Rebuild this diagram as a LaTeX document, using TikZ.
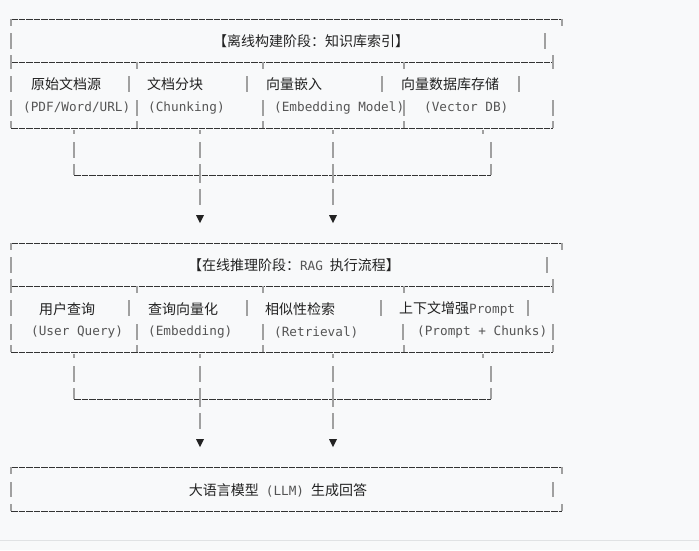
\documentclass[tikz,border=0pt]{standalone}
\usepackage{fontspec}
\newfontfamily\cjk{Noto Sans CJK SC}
\newfontfamily\mono{DejaVu Sans Mono}
\definecolor{bg}{HTML}{F8F9FA}
\definecolor{ln}{HTML}{333333}
\definecolor{vbc}{HTML}{A0A0A0}
\definecolor{tx}{HTML}{222222}
\definecolor{mt}{HTML}{555555}
\definecolor{sep}{HTML}{E0E2E4}
\newcommand\monofont{\mono\fontsize{12.7}{14}\selectfont}
\tikzset{
  hl/.style={draw=ln, line width=0.9pt, dash pattern=on 6.6pt off 0.9pt},
  vb/.style={draw=vbc, line width=1.3pt},
  cj/.style={font=\cjk\fontsize{14}{16}\selectfont, text=tx, inner sep=0pt},
  cjw/.style={cj, anchor=west},
  mo/.style={font=\monofont, text=mt, anchor=west, inner sep=0pt},
  tri/.style={fill=tx},
}
\newcommand\vseg[3]{\draw[vb] (#1,#2) -- (#1,#3);}
\newcommand\rowbars[2]{\foreach \xx in {#2} {\draw[vb] (\xx,#1-8) -- (\xx,#1+8);}}
% frame of a stage box (relative coordinates, top at 19)
\newcommand\stageframe[3]{%
  \draw[hl] (11,19) -- (562,19);
  \vseg{11}{19}{26}\vseg{562}{19}{26}
  \vseg{11}{33}{49}\vseg{#1}{33}{49}
  \draw[hl] (11,62) -- (553,62);
  \vseg{11}{55}{69}\vseg{553}{55}{69}
  \foreach \xx in {137,263,404} {\vseg{\xx}{62}{69}}
  \rowbars{84}{#2}
  \rowbars{108}{#3}
  \draw[hl] (11,128) -- (553,128);
  \vseg{11}{121}{128}\vseg{553}{121}{128}
  \foreach \xx in {137,263,404} {\vseg{\xx}{121}{128}}
}
% connectors below a stage box (relative coordinates)
\newcommand\connectors{%
  \coordinate (cl) at (74,175);
  \coordinate (cr) at (491,175);
  \foreach \xx in {74,200,333} {\vseg{\xx}{130}{134}\vseg{\xx}{142}{158}\vseg{\xx}{164}{175}}
  \vseg{483}{130}{134}\vseg{491}{142}{158}\vseg{491}{164}{175}
  \draw[hl] (cl) -- (cr);
  \foreach \xx in {200,333} {\vseg{\xx}{175}{183}\vseg{\xx}{189}{205}
    \fill[tri] (\xx-4,215) -- (\xx+4,215) -- (\xx,223) -- cycle;}
}
\begin{document}
\begin{tikzpicture}[x=1pt,y=-1pt]
\useasboundingbox (0,0) rectangle (699,550);
\fill[bg] (0,0) rectangle (699,550);
\draw[sep, line width=1pt] (0,540) -- (699,540);

% ---------- stage 1 ----------
\begin{scope}
  \stageframe{545}{11,129,247,382,519}{11,137,263,404,553}
  \node[cj] (t1) at (311,41) {【离线构建阶段：知识库索引】};
  \node[cjw] (a1) at (31,84) {原始文档源};
  \node[cjw] (a2) at (147,84) {文档分块};
  \node[cjw] (a3) at (266,84) {向量嵌入};
  \node[cjw] (a4) at (401,84) {向量数据库存储};
  \node[mo] (b1) at (23,108) {(PDF/Word/URL)};
  \node[mo] (b2) at (148,108) {(Chunking)};
  \node[mo] (b3) at (274,108) {(Embedding Model)};
  \node[mo] (b4) at (424,108) {(Vector DB)};
  \connectors
\end{scope}

% ---------- stage 2 ----------
\begin{scope}[shift={(0,224)}]
  \stageframe{547}{11,129,247,381,528}{11,137,263,403,553}
  \node[cj] (t2) at (294,41) {【在线推理阶段：{\monofont\color{mt}RAG}\hspace{7pt}执行流程】};
  \node[cjw] (c1) at (39,85) {用户查询};
  \node[cjw] (c2) at (148,85) {查询向量化};
  \node[cjw] (c3) at (265,85) {相似性检索};
  \node[cjw] (c4) at (399,85) {上下文增强{\monofont\color{mt}Prompt}};
  \node[mo] (d1) at (31,108) {(User Query)};
  \node[mo] (d2) at (148,108) {(Embedding)};
  \node[mo] (d3) at (274,108) {(Retrieval)};
  \node[mo] (d4) at (417,108) {(Prompt + Chunks)};
  \connectors
\end{scope}

% ---------- stage 3 ----------
\draw[hl] (11,467) -- (562,467);
\vseg{11}{467}{474}\vseg{562}{467}{474}
\vseg{11}{482}{497}\vseg{553}{482}{497}
\draw[hl] (11,511) -- (562,511);
\vseg{11}{504}{511}\vseg{562}{504}{511}
\node[cj] (e1) at (278,490) {大语言模型\hspace{7pt}{\monofont\color{mt}(LLM)}\hspace{7pt}生成回答};
\end{tikzpicture}
\end{document}
